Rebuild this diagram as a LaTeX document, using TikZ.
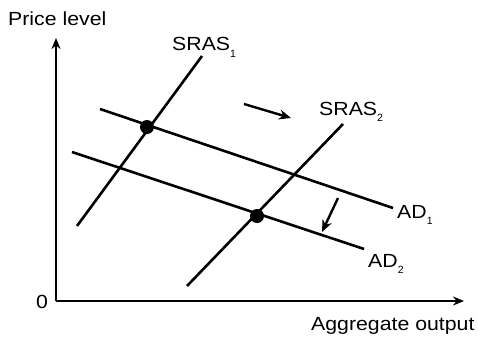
\documentclass[tikz,border=0pt]{standalone}
\usepackage{fontspec}
\usepackage{graphicx}
\setmainfont{Liberation Sans}
\usetikzlibrary{arrows.meta}
\newcommand\lowsub[1]{\raisebox{-6.5pt}{\fontsize{10.5}{11}\selectfont #1}}
\newcommand\wtext[1]{\scalebox{1.12}[1]{#1}}
\tikzset{
  axisline/.style={line width=2.2pt, -{Stealth[length=11pt,width=9pt]}},
  curve/.style={line width=2.6pt},
  shiftarrow/.style={line width=2.4pt, -{Stealth[length=12pt,width=10pt]}},
  eqdot/.style={circle, fill=black, inner sep=0pt, minimum size=14pt},
  lbl/.style={inner sep=0pt, anchor=base west, font=\fontsize{19}{22}\selectfont},
}
\begin{document}
\begin{tikzpicture}[x=1pt,y=-1pt]
\useasboundingbox (0,0) rectangle (478,337);
% axes
\coordinate (origin) at (56,301);
\coordinate (ytop) at (56,38);
\coordinate (xend) at (464,301);
\draw[axisline] (origin) -- (ytop);
\draw[axisline] (origin) -- (xend);
% curves
\coordinate (s1a) at (77,226);
\coordinate (s1b) at (202,56);
\coordinate (s2a) at (187,286);
\coordinate (s2b) at (343,124);
\coordinate (ad1a) at (100,109);
\coordinate (ad1b) at (393,208);
\coordinate (ad2a) at (72,152);
\coordinate (ad2b) at (364,249);
\draw[curve] (s1a) -- (s1b);
\draw[curve] (s2a) -- (s2b);
\draw[curve] (ad1a) -- (ad1b);
\draw[curve] (ad2a) -- (ad2b);
% equilibrium dots
\node[eqdot] (e1) at (147,127) {};
\node[eqdot] (e2) at (257,216) {};
% shift arrows
\coordinate (r1) at (244,104);
\coordinate (r2) at (291,118);
\coordinate (d1) at (338,198);
\coordinate (d2) at (322,232);
\draw[shiftarrow] (r1) -- (r2);
\draw[shiftarrow] (d1) -- (d2);
% labels
\node[lbl] (py) at (8,25.7) {\wtext{Price level}};
\node[lbl] (zero) at (36,308) {\wtext{0}};
\node[lbl] (ax) at (311,330.5) {\wtext{Aggregate output}};
\node[lbl] (ls1) at (172,51) {\wtext{SRAS}\lowsub{1}};
\node[lbl] (ls2) at (319,115) {\wtext{SRAS}\lowsub{2}};
\node[lbl] (la1) at (397,218) {\wtext{AD}\lowsub{1}};
\node[lbl] (la2) at (368,267) {\wtext{AD}\lowsub{2}};
\end{tikzpicture}
\end{document}
